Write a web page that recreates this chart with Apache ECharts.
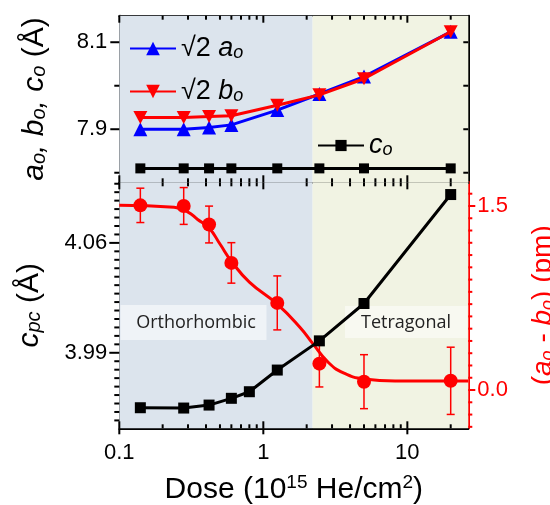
<!DOCTYPE html>
<html>
<head>
<meta charset="utf-8">
<script src="https://cdn.jsdelivr.net/npm/echarts@6/dist/echarts.min.js"></script>
<style>
  html, body { margin: 0; padding: 0; background: #fff; }
  #chart { width: 550px; height: 505px; }
</style>
</head>
<body>
<div id="chart"></div>
<script>
// data
const doseTop = [0.14, 0.28, 0.42, 0.6, 1.25, 2.45, 5.0, 20];
const aO = [7.900, 7.900, 7.904, 7.910, 7.944, 7.981, 8.021, 8.124];
const bO = [7.927, 7.927, 7.929, 7.931, 7.955, 7.979, 8.016, 8.124];
const cO = [7.810, 7.810, 7.810, 7.810, 7.810, 7.810, 7.810, 7.810];

const doseC = [0.14, 0.28, 0.42, 0.6, 0.8, 1.25, 2.45, 5.0, 20];
const cPc = [3.955, 3.9548, 3.9567, 3.961, 3.9652, 3.979, 3.9976, 4.0214, 4.0908];

const diffAB = [1.505, 1.50, 1.349, 1.036, 0.71, 0.215, 0.068, 0.075];
const diffErr = [0.14, 0.15, 0.15, 0.165, 0.22, 0.19, 0.22, 0.274];

const fitDose = [0.1, 0.24, 0.3, 0.35, 0.42, 0.5, 0.6, 0.8, 1.25, 1.8, 2.2, 2.8, 3.6, 5, 8.4, 26.5];
const fitVal = [1.505, 1.49, 1.45, 1.39, 1.32, 1.19, 1.05, 0.88, 0.70, 0.51, 0.38, 0.23, 0.14, 0.09, 0.074, 0.073];

const phaseEdge = 2.2;

// ticks
const doseLabels = [0.1, 1, 10];
const doseMinor = [0.2, 0.3, 0.4, 0.5, 0.6, 0.7, 0.8, 0.9, 2, 3, 4, 5, 6, 7, 8, 9, 20];
const topYLabels = [7.9, 8.1];
const topYMinor = [7.8, 8.0];
const cpcLabels = [3.99, 4.06];
const diffLabels = [0.0, 1.5];

const doseMin = 0.1, doseMax = 26.5;
const topMin = 7.778, topMax = 8.161;
const cpcMin = 3.9419, cpcMax = 4.0986;
const diffMin = -0.312, diffMax = 1.693;

// minor ticks of the c_pc axis: 13 steps per 0.07
const cpcMinor = [];
for (let k = -10; k <= 30; k++) {
  const v = 3.99 + k * 0.07 / 13;
  if (v > cpcMin && v < cpcMax && k % 13 !== 0) cpcMinor.push(+v.toFixed(5));
}
const diffMinor = [];
for (let k = -3; k <= 16; k++) {
  if (k !== 0 && k !== 15) diffMinor.push(+(k * 0.1).toFixed(2));
}

const FONT = 'Liberation Sans, Arial, sans-serif';
const BLUE = '#0000ff', RED = '#ff0000', BLACK = '#000000';
const GRIDS = [
  { left: 119.3, top: 15.7, width: 349, height: 166.6, outerBoundsMode: 'none', containLabel: false },
  { left: 119.3, top: 182.3, width: 349, height: 246, outerBoundsMode: 'none', containLabel: false }
];

function subRich(size, color, subSize) {
  const ss = subSize || Math.round(size * 0.66);
  return {
    m: { fontSize: size, lineHeight: size, verticalAlign: 'top', fontFamily: FONT, color: color },
    i: { fontSize: size, lineHeight: size, verticalAlign: 'top', fontFamily: FONT, fontStyle: 'italic', color: color },
    s: { fontSize: ss, lineHeight: ss, verticalAlign: 'bottom',
         padding: [Math.round(size * 0.7), 0, 0, 0], fontFamily: FONT, fontStyle: 'italic', color: color }
  };
}

function xAx(grid, pos) {
  return {
    type: 'log', logBase: 10, min: doseMin, max: doseMax, gridIndex: grid, position: pos,
    axisLine: { show: true, onZero: false, lineStyle: { color: BLACK, width: 2 } },
    axisTick: { show: false }, axisLabel: { show: false },
    splitLine: { show: false }, minorTick: { show: false }
  };
}
function yAx(grid, pos, min, max, color) {
  return {
    type: 'value', min: min, max: max, gridIndex: grid, position: pos,
    axisLine: { show: true, onZero: false, lineStyle: { color: color || BLACK, width: 2 } },
    axisTick: { show: false }, axisLabel: { show: false },
    splitLine: { show: false }, minorTick: { show: false }
  };
}

const xAxes = [xAx(0, 'bottom'), xAx(0, 'top'), xAx(1, 'bottom'), xAx(1, 'top')];
Object.assign(xAxes[2].axisLabel, {
  show: true, customValues: doseLabels, margin: 14, fontSize: 22, fontFamily: FONT, color: BLACK,
  formatter: v => String(+(+v).toPrecision(3))
});
Object.assign(xAxes[2], {
  name: '{t|Dose (10}{p|15}{t| He/cm}{p|2}{t|)}',
  nameLocation: 'middle', nameGap: 45,
  nameTextStyle: {
    rich: {
      t: { fontSize: 30, lineHeight: 31, verticalAlign: 'bottom', fontFamily: FONT, color: BLACK },
      p: { fontSize: 19, lineHeight: 19, verticalAlign: 'top', fontFamily: FONT, color: BLACK }
    }
  }
});

const yAxes = [
  yAx(0, 'left', topMin, topMax),
  yAx(0, 'right', topMin, topMax),
  yAx(1, 'left', cpcMin, cpcMax),
  yAx(1, 'right', diffMin, diffMax, RED)
];
Object.assign(yAxes[0].axisLabel, {
  show: true, customValues: topYLabels, margin: 12, fontSize: 22, fontFamily: FONT, color: BLACK,
  formatter: v => (+v).toFixed(1)
});
Object.assign(yAxes[0], {
  name: '{i|a}{s|o}{i|, b}{s|o}{i|, c}{s|o}{m| (Å)}',
  nameLocation: 'middle', nameRotate: 90, nameGap: 70,
  nameTextStyle: { rich: subRich(30, BLACK) }
});
Object.assign(yAxes[2].axisLabel, {
  show: true, customValues: cpcLabels, margin: 12, fontSize: 22, fontFamily: FONT, color: BLACK,
  formatter: v => (+v).toFixed(2)
});
Object.assign(yAxes[2], {
  name: '{i|c}{s|pc}{m| (Å)}',
  nameLocation: 'middle', nameRotate: 90, nameGap: 75,
  nameTextStyle: { rich: subRich(30, BLACK) }
});
Object.assign(yAxes[3].axisLabel, {
  show: true, customValues: diffLabels, margin: 9, fontSize: 22, fontFamily: FONT, color: RED,
  formatter: v => (+v).toFixed(1)
});
Object.assign(yAxes[3], {
  name: '{m|(}{i|a}{s|o}{m| - }{i|b}{s|o}{m|) (pm)}',
  nameLocation: 'middle', nameRotate: 90, nameGap: 47,
  nameTextStyle: { rich: subRich(28, RED) }
});

function pairs(xs, ys) { return xs.map((x, i) => [x, ys[i]]); }

const phaseArea = {
  silent: true,
  data: [
    [{ xAxis: doseMin, itemStyle: { color: '#dce4ed' } }, { xAxis: phaseEdge }],
    [{ xAxis: phaseEdge, itemStyle: { color: '#f1f3e3' } }, { xAxis: doseMax }]
  ]
};

const downTri = 'path://M0,0L10,0L5,9Z';

const series = [
  { type: 'line', xAxisIndex: 0, yAxisIndex: 0, data: [], markArea: phaseArea, silent: true },
  { type: 'line', xAxisIndex: 2, yAxisIndex: 2, data: [], markArea: phaseArea, silent: true },
  {
    name: 'a', type: 'line', xAxisIndex: 0, yAxisIndex: 0, z: 4, data: pairs(doseTop, aO),
    symbol: 'triangle', symbolSize: 14, lineStyle: { color: BLUE, width: 3 }, itemStyle: { color: BLUE }
  },
  {
    name: 'b', type: 'line', xAxisIndex: 0, yAxisIndex: 0, z: 5, data: pairs(doseTop, bO),
    symbol: downTri, symbolSize: [14, 13], lineStyle: { color: RED, width: 3 }, itemStyle: { color: RED }
  },
  {
    name: 'c', type: 'line', xAxisIndex: 0, yAxisIndex: 0, z: 4, data: pairs(doseTop, cO),
    symbol: 'rect', symbolSize: 10, lineStyle: { color: BLACK, width: 3 }, itemStyle: { color: BLACK }
  },
  {
    name: 'fit', type: 'line', xAxisIndex: 2, yAxisIndex: 3, z: 3, data: pairs(fitDose, fitVal),
    smooth: 0.5, showSymbol: false, symbol: 'none',
    lineStyle: { color: RED, width: 3 }
  },
  {
    name: 'err', type: 'custom', xAxisIndex: 2, yAxisIndex: 3, z: 3,
    data: doseTop.map((x, i) => [x, diffAB[i] - diffErr[i], diffAB[i] + diffErr[i]]),
    renderItem: function (params, api) {
      const top = api.coord([api.value(0), api.value(2)]);
      const bot = api.coord([api.value(0), api.value(1)]);
      const st = { stroke: RED, lineWidth: 1.5 };
      return {
        type: 'group',
        children: [
          { type: 'line', shape: { x1: top[0], y1: top[1], x2: bot[0], y2: bot[1] }, style: st },
          { type: 'line', shape: { x1: top[0] - 4, y1: top[1], x2: top[0] + 4, y2: top[1] }, style: st },
          { type: 'line', shape: { x1: bot[0] - 4, y1: bot[1], x2: bot[0] + 4, y2: bot[1] }, style: st }
        ]
      };
    }
  },
  {
    name: 'diff', type: 'scatter', xAxisIndex: 2, yAxisIndex: 3, z: 4, data: pairs(doseTop, diffAB),
    symbol: 'circle', symbolSize: 14, itemStyle: { color: RED, opacity: 1 }
  },
  {
    name: 'cpc', type: 'line', xAxisIndex: 2, yAxisIndex: 2, z: 5, data: pairs(doseC, cPc),
    symbol: 'rect', symbolSize: 11, lineStyle: { color: BLACK, width: 3 }, itemStyle: { color: BLACK }
  }
];

const legendRich = subRich(27, BLACK, 18);
function legend(name, left, top, text, h) {
  return {
    data: [name], left: left, top: top, padding: 0, itemWidth: 46, itemHeight: h,
    selectedMode: false, formatter: () => text,
    textStyle: { rich: legendRich }
  };
}

const labelGraphics = [
  { type: 'rect', z: 2, silent: true, shape: { x: 120.5, y: 305, width: 146, height: 35 },
    style: { fill: 'rgba(255,255,255,0.55)' } },
  { type: 'rect', z: 2, silent: true, shape: { x: 345, y: 306, width: 122.5, height: 32 },
    style: { fill: 'rgba(255,255,255,0.5)' } },
  { type: 'text', z: 2, silent: true, x: 196, y: 323,
    style: { text: 'Orthorhombic', font: '18px "Open Sans"', fill: '#222', align: 'center', verticalAlign: 'middle' } },
  { type: 'text', z: 2, silent: true, x: 406, y: 323,
    style: { text: 'Tetragonal', font: '18px "Open Sans"', fill: '#222', align: 'center', verticalAlign: 'middle' } }
];

const chart = echarts.init(document.getElementById('chart'), null, { renderer: 'canvas' });
chart.setOption({
  animation: false,
  backgroundColor: '#ffffff',
  grid: GRIDS,
  xAxis: xAxes,
  yAxis: yAxes,
  legend: [
    legend('a', 129, 25, '{m|√2 }{i|a}{s|o}', 17),
    legend('b', 129, 68, '{m|√2 }{i|b}{s|o}', 17),
    legend('c', 317, 122, '{i|c}{s|o}', 14)
  ],
  graphic: labelGraphics,
  series: series
});

// tick marks, placed through the axes' own scales
function seg(x1, y1, x2, y2, color) {
  return { type: 'line', z: 100, silent: true, shape: { x1: x1, y1: y1, x2: x2, y2: y2 },
           style: { stroke: color, lineWidth: 2 } };
}
// plot rectangles as laid out by the chart
const yRanges = [[topMin, topMax], [cpcMin, cpcMax]];
const rects = [0, 1].map(gi => {
  const xi = gi * 2, yi = gi * 2;
  const l = chart.convertToPixel({ xAxisIndex: xi }, doseMin);
  const r = chart.convertToPixel({ xAxisIndex: xi }, doseMax);
  const t = chart.convertToPixel({ yAxisIndex: yi }, yRanges[gi][1]);
  const b = chart.convertToPixel({ yAxisIndex: yi }, yRanges[gi][0]);
  return { l: l, r: r, t: t, b: b };
});
const ticks = [];
rects.forEach((g, gi) => {
  const xi = gi * 2;
  const addX = (v, major) => {
    const x = chart.convertToPixel({ xAxisIndex: xi }, v);
    const len = major ? 7 : 4;
    ticks.push(seg(x, g.t, x, g.t + len, BLACK));
    ticks.push(seg(x, g.b, x, g.b - len, BLACK));
    if (gi === 1 && major) ticks.push(seg(x, g.b, x, g.b + 6, BLACK));
  };
  doseLabels.forEach(v => addX(v, true));
  doseMinor.forEach(v => addX(v, false));
});
function addY(yi, values, side, len, color) {
  const g = rects[yi < 2 ? 0 : 1];
  values.forEach(v => {
    const y = chart.convertToPixel({ yAxisIndex: yi }, v);
    if (side === 'leftOut') ticks.push(seg(g.l, y, g.l - len, y, color));
    if (side === 'rightIn') ticks.push(seg(g.r, y, g.r - len, y, color));
    if (side === 'rightOut') ticks.push(seg(g.r, y, g.r + len, y, color));
  });
}
addY(0, topYLabels, 'leftOut', 9, BLACK);
addY(0, topYMinor, 'leftOut', 5, BLACK);
addY(1, topYLabels.concat(topYMinor), 'rightIn', 5, BLACK);
addY(2, cpcLabels, 'leftOut', 10, BLACK);
addY(2, cpcMinor, 'leftOut', 5, BLACK);
addY(3, diffLabels, 'rightOut', 7, RED);
addY(3, diffMinor, 'rightOut', 4, RED);

chart.setOption({ graphic: labelGraphics.concat(ticks) });
</script>
</body>
</html>
